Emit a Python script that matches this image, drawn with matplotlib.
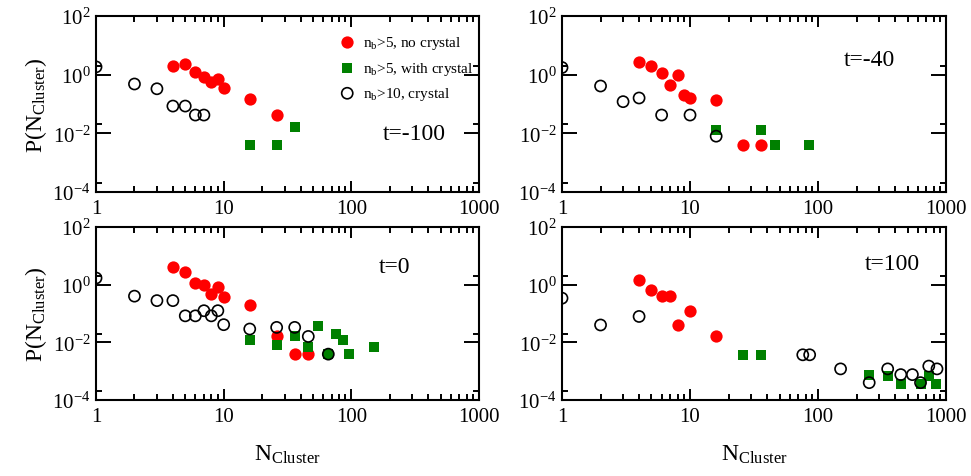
import matplotlib.pyplot as plt
from matplotlib.ticker import FixedLocator, LogLocator, LogFormatterMathtext, NullFormatter

plt.rcParams['font.family'] = 'Liberation Serif'
plt.rcParams['mathtext.fontset'] = 'custom'
plt.rcParams['mathtext.rm'] = 'Liberation Serif'
plt.rcParams['mathtext.it'] = 'Liberation Serif:italic'

# t = -100
red_n_a = [4, 5, 6, 7, 8, 9, 10, 16, 26]
red_p_a = [2.0, 2.27, 1.24, 0.86, 0.56, 0.73, 0.36, 0.15, 0.042]
grn_n_a = [16, 26, 36]
grn_p_a = [0.004, 0.004, 0.0166]
opn_n_a = [1, 2, 3, 4, 5, 6, 7]
opn_p_a = [1.84, 0.48, 0.33, 0.085, 0.085, 0.042, 0.042]

# t = -40
red_n_b = [4, 5, 6, 8, 7, 9, 10, 16, 26, 36]
red_p_b = [2.8, 2.0, 1.12, 0.95, 0.46, 0.21, 0.16, 0.14, 0.004, 0.004]
grn_n_b = [16, 36, 46, 85]
grn_p_b = [0.013, 0.013, 0.004, 0.004]
opn_n_b = [1, 2, 3, 4, 6, 10, 16]
opn_p_b = [1.75, 0.41, 0.12, 0.16, 0.042, 0.042, 0.008]

# t = 0
red_n_c = [4, 5, 6, 7, 8, 9, 10, 16, 26, 36, 46]
red_p_c = [4.0, 2.7, 1.14, 1.0, 0.48, 0.85, 0.38, 0.2, 0.017, 0.0039, 0.0039]
grn_n_c = [16, 26, 36, 46, 55, 66, 76, 86, 96, 151]
grn_p_c = [0.012, 0.008, 0.016, 0.0071, 0.038, 0.0039, 0.02, 0.012, 0.0039, 0.0071]
opn_n_c = [1, 2, 3, 4, 5, 6, 7, 8, 9, 10, 16, 26, 36, 46, 66]
opn_p_c = [1.7, 0.40, 0.28, 0.28, 0.083, 0.083, 0.125, 0.083, 0.125, 0.041,
           0.029, 0.033, 0.033, 0.016, 0.0039]

# t = 100
red_n_d = [4, 5, 6, 7, 8, 10, 16]
red_p_d = [1.45, 0.65, 0.41, 0.41, 0.041, 0.125, 0.016]
grn_n_d = [26, 36, 251, 350, 443, 632, 741, 834]
grn_p_d = [0.0037, 0.0037, 0.00076, 0.0007, 0.00036, 0.00036, 0.0007, 0.00036]
opn_n_d = [1, 2, 4, 76, 86, 150, 251, 350, 443, 546, 632, 733, 850]
opn_p_d = [0.34, 0.04, 0.079, 0.0037, 0.0037, 0.0012, 0.0004, 0.0012,
           0.00076, 0.00076, 0.0004, 0.0015, 0.0012]

labels = [r'n$_\mathrm{b}$>5, no crystal', r'n$_\mathrm{b}$>5, with crystal',
          r'n$_\mathrm{b}$>10, crystal']
titles = ['t=-100', 't=-40', 't=0', 't=100']

panels = [
    (red_n_a, red_p_a, grn_n_a, grn_p_a, opn_n_a, opn_p_a),
    (red_n_b, red_p_b, grn_n_b, grn_p_b, opn_n_b, opn_p_b),
    (red_n_c, red_p_c, grn_n_c, grn_p_c, opn_n_c, opn_p_c),
    (red_n_d, red_p_d, grn_n_d, grn_p_d, opn_n_d, opn_p_d),
]

# axes rectangles and text positions (axes fraction)
rects = [[0.0989, 0.5954, 0.3944, 0.369],
         [0.5788, 0.5954, 0.3955, 0.369],
         [0.0989, 0.1593, 0.3944, 0.3627],
         [0.5788, 0.1593, 0.3955, 0.3627]]
title_pos = [(0.83, 0.33), (0.80, 0.75), (0.78, 0.77), (0.86, 0.79)]

fig = plt.figure(figsize=(9.71, 4.77), dpi=100)

for i, (rn, rp, gn, gp, on, op) in enumerate(panels):
    ax = fig.add_axes(rects[i])
    ax.scatter(rn, rp, s=78, color='#ff0000', marker='o', lw=0, zorder=3, label=labels[0])
    ax.scatter(gn, gp, s=48, color='#008000', marker='s', lw=0, zorder=4, label=labels[1])
    ax.scatter(on, op, s=64, facecolor='none', edgecolor='black', marker='o', lw=1.2,
               zorder=5, label=labels[2])
    ax.set_xscale('log')
    ax.set_yscale('log')
    ax.set_xlim(1, 1000)
    ax.set_ylim(1e-4, 1e2)
    ax.yaxis.set_major_locator(FixedLocator([1e-4, 1e-2, 1, 1e2]))
    ax.yaxis.set_minor_locator(FixedLocator([2e-4, 2e-2, 2]))
    ax.yaxis.set_major_formatter(LogFormatterMathtext())
    ax.yaxis.set_minor_formatter(NullFormatter())
    ax.xaxis.set_major_locator(FixedLocator([1, 10, 100, 1000]))
    ax.xaxis.set_minor_locator(LogLocator(base=10, subs=range(2, 10), numticks=20))
    ax.xaxis.set_major_formatter(plt.FuncFormatter(lambda v, p: '%d' % v))
    ax.xaxis.set_minor_formatter(NullFormatter())
    ax.tick_params(which='both', direction='in', top=True, right=True, width=1.4,
                   labelsize=15)
    ax.tick_params(axis='x', which='major', length=8, pad=5)
    ax.tick_params(axis='x', which='minor', length=4.5)
    ax.tick_params(axis='y', which='major', length=11, pad=4)
    ax.tick_params(axis='y', which='minor', length=4.5)
    for sp in ax.spines.values():
        sp.set_linewidth(1.5)
    ax.text(title_pos[i][0], title_pos[i][1], titles[i], transform=ax.transAxes,
            fontsize=17, ha='center', va='center')
    if i % 2 == 0:
        ax.set_ylabel(r'P(N$_\mathrm{Cluster}$)', fontsize=17, labelpad=2)
    if i >= 2:
        ax.set_xlabel(r'N$_\mathrm{Cluster}$', fontsize=17, labelpad=12)
    if i == 0:
        ax.legend(loc='upper left', bbox_to_anchor=(0.636, 0.895), frameon=False,
                  fontsize=11, borderpad=0, borderaxespad=0, handlelength=1,
                  handletextpad=0.5, labelspacing=0.55, scatterpoints=1)

fig.savefig('out.png', dpi=100)
